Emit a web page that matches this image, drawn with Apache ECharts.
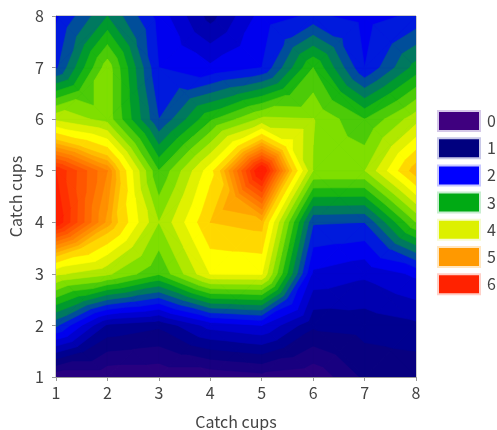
<!DOCTYPE html>
<html><head><meta charset="utf-8">
<style>html,body{margin:0;padding:0;background:#fff}#c{width:497px;height:430px}</style>
<script src="https://cdn.jsdelivr.net/npm/echarts@6/dist/echarts.min.js"></script>
</head><body><div id="c"></div>
<script>
const xTicks = [1,2,3,4,5,6,7,8];
const yTicks = [1,2,3,4,5,6,7,8];
const legendLabels = ['0','1','2','3','4','5','6'];
const legendColors = ['#3f007f','#00007f','#0000ff','#00aa14','#ddf000','#ff9900','#ff2200'];
const legendBorders = ['#d5c8e8','#c8c8e8','#c8c8ff','#c8eed0','#f6fbd0','#ffe6c0','#ffd0c8'];
const row1 = [0.3,0.3,0.3,0.3,0.4,0.3,0.8,0.8];
const row2 = [2.3,1.2,1.05,1.6,1.75,1.05,1.1,1.2];
const row3 = [4.05,3.8,3.28,4.26,4.27,1.7,1.55,1.8];
const row4 = [6.1,5.0,3.75,4.75,4.85,2.28,2.25,3.5];
const row5 = [5.95,5.2,3.25,4.4,6.2,3.74,3.74,4.9];
const row6 = [3.95,3.65,2.25,3.2,3.8,3.76,3.25,3.9];
const row7 = [2.2,3.65,2.0,1.8,2.0,3.25,2.0,2.85];
const row8 = [1.95,2.75,1.9,1.15,1.85,2.05,1.9,2.05];
const grid = [row1,row2,row3,row4,row5,row6,row7,row8];
const contourLevels = [0,0.25,0.5,0.75,1,1.25,1.5,1.75,2,2.25,2.5,2.75,3,3.25,3.5,3.75,4,4.25,4.5,4.75,4.9,5.05,5.2,5.35,5.5,5.65,5.8,5.95,6.1,6.25];
const colorStops = [[0,'#400080'],[1,'#000080'],[2,'#0000ff'],[2.5,'#006878'],[3,'#00aa14'],[3.6,'#7ade00'],[4.1,'#ddf000'],[4.375,'#ffff00'],[4.625,'#ffd800'],[4.85,'#ffb800'],[5,'#ffa000'],[6,'#ff2000']];

function hex(c){return [1,3,5].map(i=>parseInt(c.substr(i,2),16));}
function colorAt(v){
  if(v<=colorStops[0][0])return colorStops[0][1];
  for(let i=1;i<colorStops.length;i++){
    if(v<=colorStops[i][0]){
      const [a,ca]=colorStops[i-1],[b,cb]=colorStops[i];
      const t=(v-a)/(b-a),A=hex(ca),B=hex(cb);
      return 'rgb('+A.map((x,j)=>Math.round(x+(B[j]-x)*t)).join(',')+')';
    }
  }
  return colorStops[colorStops.length-1][1];
}
const items=[];
contourLevels.forEach((lv,k)=>{
  for(let r=0;r<yTicks.length-1;r++)for(let c=0;c<xTicks.length-1;c++)for(let t=0;t<4;t++)items.push([c,r,k,t]);
});
function clip(poly,level){
  const out=[];
  for(let i=0;i<poly.length;i++){
    const a=poly[i],b=poly[(i+1)%poly.length];
    const ia=a[2]>=level,ib=b[2]>=level;
    if(ia)out.push(a);
    if(ia!==ib){
      const t=(level-a[2])/(b[2]-a[2]);
      out.push([a[0]+(b[0]-a[0])*t,a[1]+(b[1]-a[1])*t,level]);
    }
  }
  return out;
}
function renderBand(params,api){
  const c=api.value(0),r=api.value(1),k=api.value(2),t=api.value(3);
  const cell=[[xTicks[c],yTicks[r],grid[r][c]],[xTicks[c+1],yTicks[r],grid[r][c+1]],
              [xTicks[c+1],yTicks[r+1],grid[r+1][c+1]],[xTicks[c],yTicks[r+1],grid[r+1][c]]];
  const mid=[(cell[0][0]+cell[1][0])/2,(cell[0][1]+cell[3][1])/2,(cell[0][2]+cell[1][2]+cell[2][2]+cell[3][2])/4];
  const tri=[cell[t],cell[(t+1)%4],mid];
  const level=contourLevels[k];
  const next=k+1<contourLevels.length?contourLevels[k+1]:level+0.15;
  const poly=k===0?tri:clip(tri,level);
  if(poly.length<3)return null;
  const col=colorAt((level+next)/2);
  return {type:'polygon',shape:{points:poly.map(p=>api.coord([p[0],p[1]]))},
          style:{fill:col,stroke:col,lineWidth:0.6},silent:true};
}
const font='"Noto Sans CJK KR", "Noto Sans", sans-serif';
const axisCommon={type:'value',min:1,max:8,interval:1,
  axisLine:{show:true,onZero:false,lineStyle:{color:'#999',width:1}},
  axisTick:{show:true,length:4,lineStyle:{color:'#999'}},
  splitLine:{show:false},
  axisLabel:{color:'#444',fontSize:16,fontFamily:font,showMinLabel:true,showMaxLabel:true},
  name:'Catch cups',nameLocation:'middle',
  nameTextStyle:{color:'#444',fontSize:16,fontFamily:font}};
const dummy=legendLabels.map((n,i)=>({name:n,type:'scatter',data:[],
  itemStyle:{color:legendColors[i],opacity:1,borderColor:legendBorders[i],borderWidth:1}}));
const chart=echarts.init(document.getElementById('c'),null,{renderer:'canvas'});
chart.setOption({
  animation:false,
  grid:{left:56,top:16,width:360,height:361,show:true,borderColor:'#999',borderWidth:1,backgroundColor:'transparent',outerBoundsMode:'none'},
  xAxis:Object.assign({},axisCommon,{nameGap:37,axisLabel:Object.assign({},axisCommon.axisLabel,{margin:8})}),
  yAxis:Object.assign({},axisCommon,{nameGap:31,axisLabel:Object.assign({},axisCommon.axisLabel,{margin:12})}),
  legend:{show:true,orient:'vertical',left:437,top:110,padding:0,itemWidth:42,itemHeight:20,itemGap:5.2,
    selectedMode:false,icon:'rect',data:legendLabels,
    textStyle:{color:'#444',fontSize:16,fontFamily:font,padding:[0,0,0,2]}},
  series:[{type:'custom',coordinateSystem:'cartesian2d',renderItem:renderBand,data:items,
    encode:{x:0,y:1},silent:true,z:1,progressive:0,clip:true}].concat(dummy)
});
</script></body></html>
